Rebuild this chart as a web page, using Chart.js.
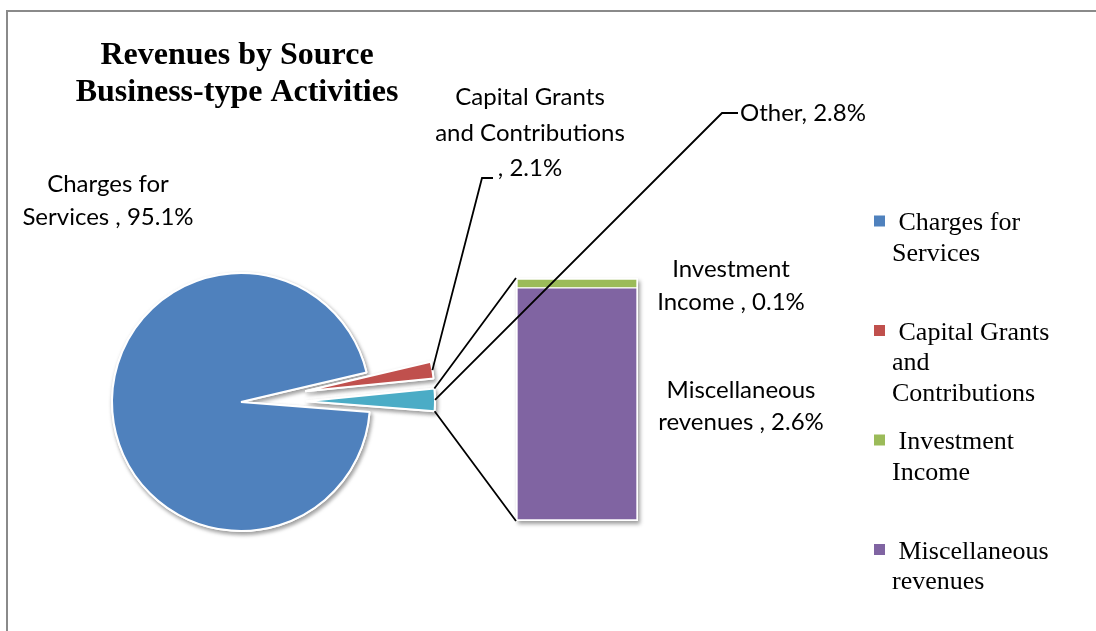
<!DOCTYPE html>
<html>
<head>
<meta charset="utf-8">
<title>Revenues by Source - Business-type Activities</title>
<script src="https://cdn.jsdelivr.net/npm/chart.js@4.4.1/dist/chart.umd.min.js"></script>
<style>
  html, body { margin: 0; padding: 0; background: #fff; }
  #wrap { position: relative; width: 1096px; height: 631px; overflow: hidden; background: #fff; }
  #frame { position: absolute; left: 6px; top: 10px; right: -20px; bottom: -20px;
           border-left: 2px solid #8a8a8a; border-top: 2px solid #8a8a8a; }
  canvas { position: absolute; left: 0; top: 0; }
</style>
</head>
<body>
<div id="wrap">
  <div id="frame"></div>
  <canvas id="pieChart" width="1096" height="631"></canvas>
  <canvas id="barChart" width="1096" height="631"></canvas>
</div>
<script>
// pie: the two small slices are pulled out, "Other" is broken down in the bar
const pieSlices = ['Charges for Services', 'Capital Grants and Contributions', 'Other'];
const pieValues = [95.1, 2.1, 2.8];
const pieLabelFormat = ['Charges for|Services , {v}%', 'Capital Grants|and Contributions|, {v}%', 'Other, {v}%'];

const barCategories = ['Investment Income', 'Miscellaneous revenues'];
const barValues = [0.1, 2.6];
const barLabelFormat = ['Investment|Income , {v}%', 'Miscellaneous|revenues , {v}%'];

const legendItems = ['Charges for|Services', 'Capital Grants|and|Contributions', 'Investment|Income', 'Miscellaneous|revenues'];

const titleLines = ['Revenues by Source', 'Business-type Activities'];

const BLUE = '#4F81BD', RED = '#C0504D', GREEN = '#9BBB59', PURPLE = '#8064A2', TEAL = '#4BACC6';
const pieColors = [BLUE, RED, TEAL];
const legendColors = [BLUE, RED, GREEN, PURPLE];
const EXPLODE = [0, 65, 65];

const W = 1096, H = 631;
const labelFont = '24px Lato';
const legendFont = '26px "Liberation Serif"';
const titleFont = 'bold 32px "Liberation Serif"';

function fmt(tpl, v) {
    return tpl.replace('{v}', v.toFixed(1)).split('|');
}

function shadowOn(ctx) {
    ctx.shadowColor = 'rgba(0, 0, 0, 0.38)';
    ctx.shadowBlur = 4;
    ctx.shadowOffsetX = 1.5;
    ctx.shadowOffsetY = 2.5;
}

// draws the arcs ourselves so exploded slices keep their radius
const explodePlugin = {
    id: 'explode',
    beforeDatasetDraw(chart, args) {
        const ctx = chart.ctx;
        const arcs = args.meta.data;
        for (let pass = 0; pass < 2; pass++) {
            arcs.forEach((arc, i) => {
                const mid = (arc.startAngle + arc.endAngle) / 2;
                ctx.save();
                ctx.translate(Math.cos(mid) * EXPLODE[i], Math.sin(mid) * EXPLODE[i]);
                if (pass === 0) shadowOn(ctx);
                arc.draw(ctx);
                ctx.restore();
            });
        }
        return false;
    }
};

const pieChart = new Chart(document.getElementById('pieChart'), {
    type: 'pie',
    data: {
        labels: pieSlices,
        datasets: [{
            data: pieValues,
            backgroundColor: pieColors,
            borderColor: '#ffffff',
            borderWidth: 2,
            radius: 129
        }]
    },
    options: {
        responsive: false,
        animation: false,
        events: [],
        rotation: 94.4,
        layout: { padding: { left: 0, right: W - 482, top: 173, bottom: 0 } },
        plugins: { legend: { display: false }, tooltip: { enabled: false } }
    },
    plugins: [explodePlugin]
});

function drawLines(ctx, lines, x, y, step, align) {
    ctx.textAlign = align;
    lines.forEach((t, k) => ctx.fillText(t, x, y + k * step));
}

// shadow behind the stacked bar, labels, leader lines, legend and title
const annotations = {
    id: 'annotations',
    beforeDatasetsDraw(chart) {
        const ctx = chart.ctx;
        const bars = chart.getSortedVisibleDatasetMetas().map(m => m.data[0]);
        const left = Math.min(...bars.map(b => b.x - b.width / 2));
        const right = Math.max(...bars.map(b => b.x + b.width / 2));
        const top = Math.min(...bars.map(b => Math.min(b.y, b.base)));
        const bottom = Math.max(...bars.map(b => Math.max(b.y, b.base)));
        ctx.save();
        shadowOn(ctx);
        ctx.fillStyle = '#ffffff';
        ctx.fillRect(left - 1, top - 1, right - left + 2, bottom - top + 2);
        ctx.restore();
    },
    afterDraw(chart) {
        const ctx = chart.ctx;
        const arcs = pieChart.getDatasetMeta(0).data;
        const bars = chart.getSortedVisibleDatasetMetas().map(m => m.data[0]);
        const barLeft = Math.min(...bars.map(b => b.x - b.width / 2));
        const barTop = Math.min(...bars.map(b => Math.min(b.y, b.base)));
        const barBottom = Math.max(...bars.map(b => Math.max(b.y, b.base)));

        const edgePoint = (i, ang) => {
            const a = arcs[i];
            const mid = (a.startAngle + a.endAngle) / 2;
            return [a.x + Math.cos(mid) * EXPLODE[i] + Math.cos(ang) * a.outerRadius,
                    a.y + Math.sin(mid) * EXPLODE[i] + Math.sin(ang) * a.outerRadius];
        };
        const midOf = i => (arcs[i].startAngle + arcs[i].endAngle) / 2;

        ctx.save();
        ctx.strokeStyle = '#000';
        ctx.lineWidth = 1.8;
        ctx.lineJoin = 'miter';

        // "Other" slice opens into the bar
        const otherTop = edgePoint(2, arcs[2].startAngle);
        const otherBottom = edgePoint(2, arcs[2].endAngle);
        ctx.beginPath();
        ctx.moveTo(otherTop[0], otherTop[1]);
        ctx.lineTo(barLeft - 1, barTop - 1);
        ctx.moveTo(otherBottom[0], otherBottom[1]);
        ctx.lineTo(barLeft - 1, barBottom + 1);
        ctx.stroke();

        // leader lines
        const capMid = edgePoint(1, midOf(1));
        ctx.beginPath();
        ctx.moveTo(capMid[0], capMid[1]);
        ctx.lineTo(482, 178);
        ctx.lineTo(493, 178);
        const othMid = edgePoint(2, midOf(2));
        ctx.moveTo(othMid[0], othMid[1]);
        ctx.lineTo(722, 113);
        ctx.lineTo(738, 113);
        ctx.stroke();

        // data labels
        ctx.fillStyle = '#000';
        ctx.textBaseline = 'alphabetic';
        ctx.font = labelFont;
        drawLines(ctx, fmt(pieLabelFormat[0], pieValues[0]), 108, 192, 33, 'center');
        drawLines(ctx, fmt(pieLabelFormat[1], pieValues[1]), 530, 105, 35.5, 'center');
        drawLines(ctx, fmt(pieLabelFormat[2], pieValues[2]), 740, 121, 33, 'left');
        drawLines(ctx, fmt(barLabelFormat[0], barValues[0]), 731, 277, 32.5, 'center');
        drawLines(ctx, fmt(barLabelFormat[1], barValues[1]), 741, 398, 32, 'center');

        // legend
        ctx.font = legendFont;
        legendItems.forEach((item, i) => {
            const base = 230 + i * 109.5;
            ctx.fillStyle = legendColors[i];
            ctx.fillRect(874, base - 14.5, 11, 11);
            ctx.fillStyle = '#000';
            const lines = item.split('|');
            lines[0] = ' ' + lines[0];
            drawLines(ctx, lines, 892, base, 30.5, 'left');
        });

        // title
        ctx.font = titleFont;
        drawLines(ctx, titleLines, 237, 64, 37, 'center');
        ctx.restore();
    }
};

const barChart = new Chart(document.getElementById('barChart'), {
    type: 'bar',
    data: {
        labels: ['Other'],
        datasets: [
            { label: barCategories[1], data: [barValues[1]], backgroundColor: PURPLE },
            { label: barCategories[0], data: [barValues[0]], backgroundColor: GREEN }
        ]
    },
    options: {
        responsive: false,
        animation: false,
        events: [],
        layout: { padding: { left: 517, right: W - 637, top: 279, bottom: H - 520 } },
        datasets: {
            bar: { barPercentage: 1, categoryPercentage: 1, borderColor: '#ffffff', borderWidth: 1, borderSkipped: false }
        },
        scales: {
            x: { display: false, stacked: true },
            y: { display: false, stacked: true, min: 0, max: barValues[0] + barValues[1] }
        },
        plugins: { legend: { display: false }, tooltip: { enabled: false } }
    },
    plugins: [annotations]
});
</script>
</body>
</html>
